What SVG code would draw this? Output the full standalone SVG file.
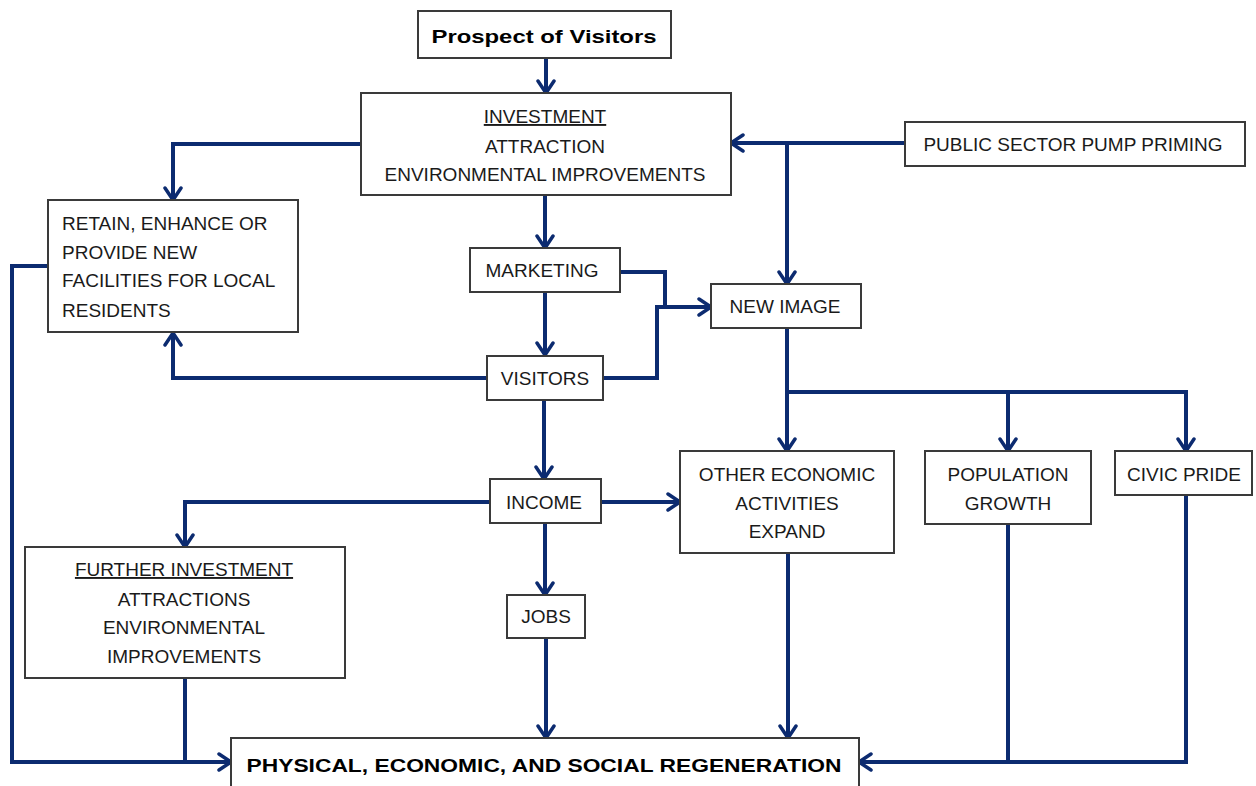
<svg xmlns="http://www.w3.org/2000/svg" width="1256" height="786" viewBox="0 0 1256 786">
<style>
.box{fill:#fff;stroke:#3a3a3a;stroke-width:2}
.t{font-family:"Liberation Sans",Arial,sans-serif;font-size:19px;fill:#1a1a1a;text-anchor:middle}
.l{text-anchor:start}
.b{font-weight:bold;fill:#000}
.u{text-decoration:underline}
.c{fill:none;stroke:#0c2b70;stroke-width:4;stroke-linejoin:miter}
.a{marker-end:url(#arr)}
</style>
<defs>
<marker id="arr" markerUnits="userSpaceOnUse" markerWidth="18" markerHeight="20" viewBox="0 0 18 20" refX="15" refY="10" orient="auto">
<path d="M3,2 L15,10 L3,18" fill="none" stroke="#0c2b70" stroke-width="3.5" stroke-linecap="round" stroke-linejoin="round"/>
</marker>
</defs>
<rect width="1256" height="786" fill="#fff"/>
<g id="connectors">
<path class="c a" d="M546,58 V93"/>
<path class="c a" d="M361,144 H173 V200"/>
<path class="c a" d="M905,143 H731"/>
<path class="c a" d="M787,143 V284"/>
<path class="c a" d="M545,195 V248"/>
<path class="c a" d="M545,292 V355"/>
<path class="c a" d="M620,272 H665 V307 H711"/>
<path class="c" d="M602,378 H657 V307 H670"/>
<path class="c a" d="M487,378 H173 V333"/>
<path class="c a" d="M544,400 V479"/>
<path class="c a" d="M787,328 V451"/>
<path class="c a" d="M787,392 H1186 V451"/>
<path class="c a" d="M1008,392 V451"/>
<path class="c a" d="M601,502 H680"/>
<path class="c a" d="M490,502 H185 V547"/>
<path class="c a" d="M545,523 V595"/>
<path class="c a" d="M546,638 V738"/>
<path class="c a" d="M788,553 V738"/>
<path class="c a" d="M48,266 H12 V762 H231"/>
<path class="c" d="M185,678 V762"/>
<path class="c a" d="M1186,495 V762 H859"/>
<path class="c" d="M1008,524 V762"/>
</g>
<g id="prospect">
<rect class="box" x="418" y="11" width="253" height="47"/>
<text class="t b" x="544" y="43" font-size="24" textLength="225" lengthAdjust="spacingAndGlyphs">Prospect of Visitors</text>
</g>
<g id="investment">
<rect class="box" x="361" y="93" width="370" height="102"/>
<text class="t u" x="545" y="123">INVESTMENT</text>
<text class="t" x="545" y="153">ATTRACTION</text>
<text class="t" x="545" y="181">ENVIRONMENTAL IMPROVEMENTS</text>
</g>
<g id="public">
<rect class="box" x="905" y="122" width="340" height="44"/>
<text class="t" x="1073" y="151">PUBLIC SECTOR PUMP PRIMING</text>
</g>
<g id="retain">
<rect class="box" x="48" y="200" width="250" height="132"/>
<text class="t l" x="62" y="230">RETAIN, ENHANCE OR</text>
<text class="t l" x="62" y="259">PROVIDE NEW</text>
<text class="t l" x="62" y="287">FACILITIES FOR LOCAL</text>
<text class="t l" x="62" y="317">RESIDENTS</text>
</g>
<g id="marketing">
<rect class="box" x="470" y="248" width="150" height="44"/>
<text class="t" x="542" y="277">MARKETING</text>
</g>
<g id="newimage">
<rect class="box" x="711" y="284" width="150" height="44"/>
<text class="t" x="785" y="313">NEW IMAGE</text>
</g>
<g id="visitors">
<rect class="box" x="487" y="356" width="116" height="44"/>
<text class="t" x="545" y="385">VISITORS</text>
</g>
<g id="income">
<rect class="box" x="490" y="479" width="111" height="44"/>
<text class="t" x="544" y="509">INCOME</text>
</g>
<g id="other">
<rect class="box" x="680" y="451" width="214" height="102"/>
<text class="t" x="787" y="481">OTHER ECONOMIC</text>
<text class="t" x="787" y="510">ACTIVITIES</text>
<text class="t" x="787" y="538">EXPAND</text>
</g>
<g id="population">
<rect class="box" x="925" y="451" width="166" height="73"/>
<text class="t" x="1008" y="481">POPULATION</text>
<text class="t" x="1008" y="510">GROWTH</text>
</g>
<g id="civic">
<rect class="box" x="1115" y="451" width="137" height="44"/>
<text class="t" x="1184" y="481">CIVIC PRIDE</text>
</g>
<g id="further">
<rect class="box" x="25" y="547" width="320" height="131"/>
<text class="t u" x="184" y="576">FURTHER INVESTMENT</text>
<text class="t" x="184" y="606">ATTRACTIONS</text>
<text class="t" x="184" y="634">ENVIRONMENTAL</text>
<text class="t" x="184" y="663">IMPROVEMENTS</text>
</g>
<g id="jobs">
<rect class="box" x="507" y="595" width="78" height="43"/>
<text class="t" x="546" y="623">JOBS</text>
</g>
<g id="physical">
<rect class="box" x="231" y="738" width="628" height="50"/>
<text class="t b" x="544" y="772" font-size="25" textLength="595" lengthAdjust="spacingAndGlyphs">PHYSICAL, ECONOMIC, AND SOCIAL REGENERATION</text>
</g>
</svg>
